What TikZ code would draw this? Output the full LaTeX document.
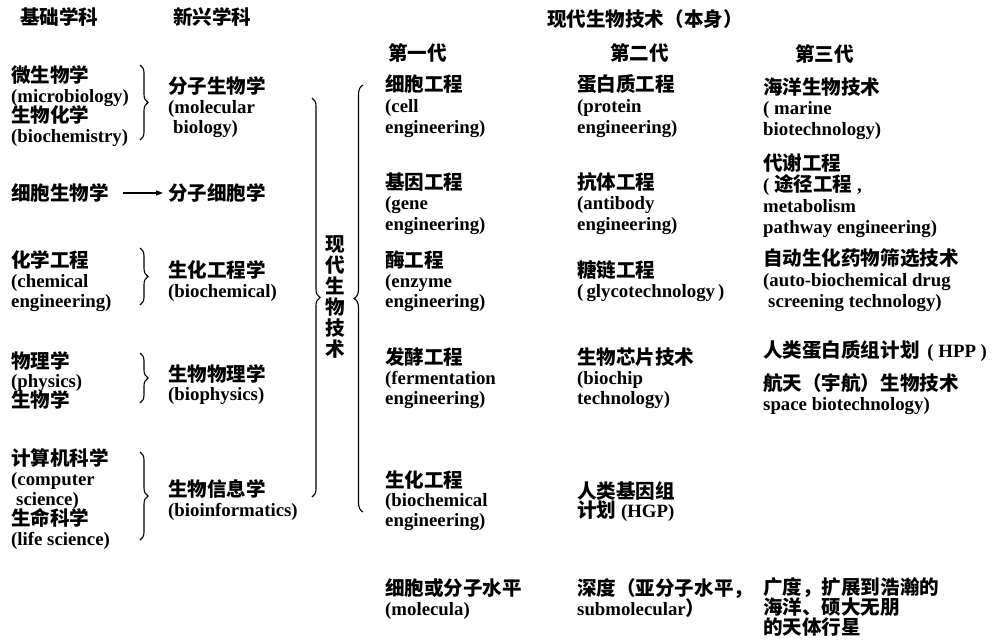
\documentclass[tikz,border=0pt]{standalone}
\usepackage{fontspec}
\setmainfont{Liberation Serif}
\newfontfamily\cjk{Noto Sans CJK SC}[Scale=1.04]
\usetikzlibrary{arrows.meta,decorations.pathreplacing}
\newcommand\zh[1]{{\cjk #1}}
\newcommand\blk[2][20.5pt]{\vtop{\baselineskip=#1\lineskiplimit=-100pt\lineskip=0pt\halign{##\hfil\cr#2\crcr}}}
\begin{document}
\begin{tikzpicture}[x=1pt,y=-1pt,
  txt/.style={inner sep=0pt,anchor=base west,font=\bfseries\fontsize{18.8}{20.5}\selectfont},
  br/.style={decorate,decoration={brace,amplitude=#1},line width=1.1pt},
  br/.default=8pt,
  arr/.style={-{Triangle[length=7pt,width=5pt]},line width=1.1pt}]
\useasboundingbox (0,0) rectangle (1003,642);
\fill[white] (0,0) rectangle (1003,642);
% headers
\node[txt] (h1) at (20,25) {\zh{基础学科}};
\node[txt] (h2) at (173,25) {\zh{新兴学科}};
\node[txt] (h3) at (547,27) {\zh{现代生物技术（本身）}};
\node[txt] (g1) at (388,60) {\zh{第一代}};
\node[txt] (g2) at (610,60) {\zh{第二代}};
\node[txt] (g3) at (795,62) {\zh{第三代}};
% basic disciplines
\node[txt] (L1) at (11,82) {\blk[20pt]{\zh{微生物学}\cr (microbiology)\cr \zh{生物化学}\cr (biochemistry)}};
\node[txt] (L2) at (11,200) {\zh{细胞生物学}};
\node[txt] (L3) at (11,267) {\blk[20pt]{\zh{化学工程}\cr (chemical\cr engineering)}};
\node[txt] (L4) at (11,368) {\blk[19.5pt]{\zh{物理学}\cr (physics)\cr \zh{生物学}}};
\node[txt] (L5) at (11,465) {\blk[20pt]{\zh{计算机科学}\cr (computer\cr \kern5pt science)\cr \zh{生命科学}\cr (life science)}};
% emerging disciplines
\node[txt] (M1) at (168,93) {\blk[20pt]{\zh{分子生物学}\cr (molecular\cr \kern5pt biology)}};
\node[txt] (M2) at (168,200) {\zh{分子细胞学}};
\node[txt] (M3) at (168,277) {\blk[20pt]{\zh{生化工程学}\cr (biochemical)}};
\node[txt] (M4) at (168,381) {\blk[19pt]{\zh{生物物理学}\cr (biophysics)}};
\node[txt] (M5) at (168,496) {\blk[20.5pt]{\zh{生物信息学}\cr (bioinformatics)}};
% vertical title
\node[txt] (V) at (325,251) {\zh{\blk[21pt]{现\cr 代\cr 生\cr 物\cr 技\cr 术}}};
% first generation
\node[txt] (C1a) at (385,92) {\blk{\zh{细胞工程}\cr (cell\cr engineering)}};
\node[txt] (C1b) at (385,189) {\blk{\zh{基因工程}\cr (gene\cr engineering)}};
\node[txt] (C1c) at (385,267) {\blk[20pt]{\zh{酶工程}\cr (enzyme\cr engineering)}};
\node[txt] (C1d) at (385,364) {\blk[20pt]{\zh{发酵工程}\cr (fermentation\cr engineering)}};
\node[txt] (C1e) at (385,487) {\blk[19.5pt]{\zh{生化工程}\cr (biochemical\cr engineering)}};
\node[txt] (C1f) at (385,595) {\blk[20pt]{\zh{细胞或分子水平}\cr (molecula)}};
% second generation
\node[txt] (C2a) at (577,92) {\blk{\zh{蛋白质工程}\cr (protein\cr engineering)}};
\node[txt] (C2b) at (577,189) {\blk{\zh{抗体工程}\cr (antibody\cr engineering)}};
\node[txt] (C2c) at (577,277) {\blk[20pt]{\zh{糖链工程}\cr (\,glycotechnology\,)}};
\node[txt] (C2d) at (577,364) {\blk[20pt]{\zh{生物芯片技术}\cr (biochip\cr technology)}};
\node[txt] (C2e) at (577,498) {\blk[19pt]{\zh{人类基因组}\cr \zh{计划} (HGP)}};
\node[txt] (C2f) at (577,595) {\blk[20pt]{\zh{深度（亚分子水平，}\cr submolecular\zh{）}}};
% third generation
\node[txt] (C3a) at (763,94) {\blk{\zh{海洋生物技术}\cr ( marine\cr biotechnology)}};
\node[txt] (C3b) at (763,170) {\blk[21pt]{\zh{代谢工程}\cr ( \zh{途径工程} ,\cr metabolism\cr pathway engineering)}};
\node[txt] (C3c) at (763,265) {\blk[21pt]{\zh{自动生化药物筛选技术}\cr (auto-biochemical drug\cr \kern5pt screening technology)}};
\node[txt] (C3d) at (763,357) {\zh{人类蛋白质组计划}\, ( HPP )};
\node[txt] (C3e) at (763,390) {\blk[20pt]{\zh{航天（宇航）生物技术}\cr space biotechnology)}};
\node[txt] (C3f) at (763,594) {\blk[20pt]{\zh{广度，扩展到浩瀚的}\cr \zh{海洋、硕大无朋}\cr \zh{的天体行星}}};
% arrow
\draw[arr] ([xshift=14pt,yshift=7pt]L2.base east) -- ([xshift=-5pt,yshift=7pt]M2.base west);
% small braces
\draw[br] (140,65) -- (140,140);
\draw[br] (140,248) -- (140,305);
\draw[br] (140,353) -- (140,403);
\draw[br] (140,452) -- (140,540);
% big braces
\draw[br] (312,98) -- (312,497);
\draw[br=9pt] (363,512) -- (363,85);
\end{tikzpicture}
\end{document}
